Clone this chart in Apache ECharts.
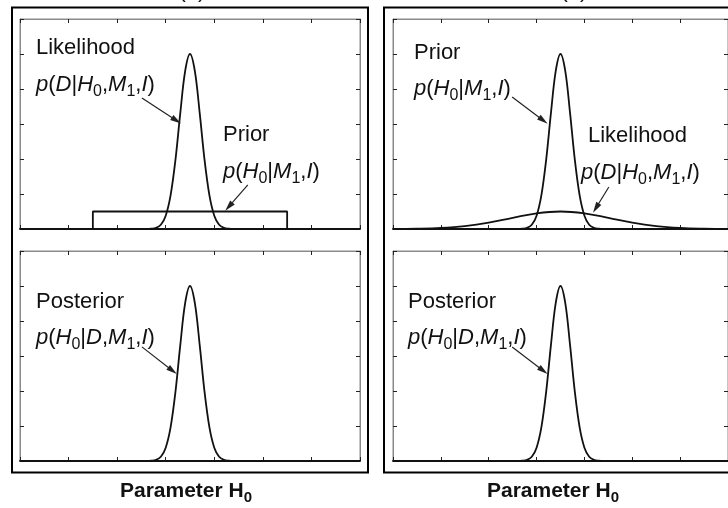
<!DOCTYPE html>
<html>
<head>
<meta charset="utf-8">
<script src="https://cdn.jsdelivr.net/npm/echarts@6/dist/echarts.min.js"></script>
<style>
  html, body { margin: 0; padding: 0; background: #fff; }
  #chart { width: 728px; height: 508px; }
</style>
</head>
<body>
<div id="chart"></div>
<script>
// Parameter H0 runs over 0..7, densities over 0..6 (arbitrary units)
const xTicks = [0, 1, 2, 3, 4, 5, 6, 7];
const yTicks = [0, 1, 2, 3, 4, 5, 6];

// (a) likelihood: narrow peak at H0 = 3.5
const likeAX = [0, 2.6, 2.7, 2.8, 2.9, 3.0, 3.1, 3.2, 3.3, 3.4, 3.5, 3.6, 3.7, 3.8, 3.9, 4.0, 4.1, 4.2, 4.3, 4.4, 7];
const likeAY = [0, 0.001, 0.007, 0.03, 0.12, 0.38, 0.96, 1.97, 3.31, 4.51, 5, 4.51, 3.31, 1.97, 0.96, 0.38, 0.12, 0.03, 0.007, 0.001, 0];

// (a) prior: flat box from 1.5 to 5.5
const priorAX = [1.5, 1.5, 5.5, 5.5];
const priorAY = [0, 0.5, 0.5, 0];

// (b) prior: narrow peak at H0 = 3.5
const priorBX = [0, 2.6, 2.7, 2.8, 2.9, 3.0, 3.1, 3.2, 3.3, 3.4, 3.5, 3.6, 3.7, 3.8, 3.9, 4.0, 4.1, 4.2, 4.3, 4.4, 7];
const priorBY = [0, 0.001, 0.007, 0.03, 0.12, 0.38, 0.96, 1.97, 3.31, 4.51, 5, 4.51, 3.31, 1.97, 0.96, 0.38, 0.12, 0.03, 0.007, 0.001, 0];

// (b) likelihood: broad, low hump
const likeBX = [0, 0.5, 1, 1.5, 2, 2.5, 3, 3.5, 4, 4.5, 5, 5.5, 6, 6.5, 7];
const likeBY = [0.002, 0.008, 0.029, 0.082, 0.18, 0.318, 0.447, 0.5, 0.447, 0.318, 0.18, 0.082, 0.029, 0.008, 0.002];

// Posteriors
const postAX = [0, 2.6, 2.7, 2.8, 2.9, 3.0, 3.1, 3.2, 3.3, 3.4, 3.5, 3.6, 3.7, 3.8, 3.9, 4.0, 4.1, 4.2, 4.3, 4.4, 7];
const postAY = [0, 0.001, 0.007, 0.03, 0.12, 0.38, 0.96, 1.97, 3.31, 4.51, 5, 4.51, 3.31, 1.97, 0.96, 0.38, 0.12, 0.03, 0.007, 0.001, 0];
const postBX = [0, 2.6, 2.7, 2.8, 2.9, 3.0, 3.1, 3.2, 3.3, 3.4, 3.5, 3.6, 3.7, 3.8, 3.9, 4.0, 4.1, 4.2, 4.3, 4.4, 7];
const postBY = [0, 0.001, 0.007, 0.03, 0.12, 0.38, 0.96, 1.97, 3.31, 4.51, 5, 4.51, 3.31, 1.97, 0.96, 0.38, 0.12, 0.03, 0.007, 0.001, 0];

// Arrow annotations in data units: [from, to]
const arrowLikeA  = [[2.51, 3.74], [3.22, 3.10]];
const arrowPriorA = [[4.69, 1.26], [4.30, 0.64]];
const arrowPriorB = [[2.49, 3.77], [3.14, 3.10]];
const arrowLikeB  = [[4.51, 1.20], [4.24, 0.60]];
const arrowPostA  = [[2.51, 3.26], [3.14, 2.58]];
const arrowPostB  = [[2.49, 3.26], [3.14, 2.58]];

const zip = (xs, ys) => xs.map((x, i) => [x, ys[i]]);

const FONT = '"Liberation Sans", Arial, Helvetica, sans-serif';
const INK = '#111';
const FRAME = '#8a8a8a';

const panels = [
  { left: 20,  top: 19,  width: 340, height: 210 },
  { left: 393, top: 19,  width: 340, height: 210 },
  { left: 20,  top: 251, width: 340, height: 210 },
  { left: 393, top: 251, width: 340, height: 210 }
];

const grid = panels.map(p => Object.assign({
  show: true, borderColor: FRAME, borderWidth: 1, backgroundColor: 'transparent'
}, p));

const tick = { show: true, inside: true, length: 4, lineStyle: { color: '#222', width: 1 } };
const xMin = xTicks[0], xMax = xTicks[xTicks.length - 1];
const yMin = yTicks[0], yMax = yTicks[yTicks.length - 1];

const xAxis = [], yAxis = [];
panels.forEach((p, i) => {
  xAxis.push({
    type: 'value', gridIndex: i, position: 'bottom', min: xMin, max: xMax, interval: 1,
    axisLine: { show: true, onZero: false, lineStyle: { color: INK, width: 1.8 } },
    axisTick: tick, axisLabel: { show: false }, splitLine: { show: false }
  });
  xAxis.push({
    type: 'value', gridIndex: i, position: 'top', min: xMin, max: xMax, interval: 1,
    axisLine: { show: true, onZero: false, lineStyle: { color: FRAME, width: 1 } },
    axisTick: tick, axisLabel: { show: false }, splitLine: { show: false }
  });
  yAxis.push({
    type: 'value', gridIndex: i, position: 'left', min: yMin, max: yMax, interval: 1,
    axisLine: { show: true, onZero: false, lineStyle: { color: FRAME, width: 1 } },
    axisTick: tick, axisLabel: { show: false }, splitLine: { show: false }
  });
  yAxis.push({
    type: 'value', gridIndex: i, position: 'right', min: yMin, max: yMax, interval: 1,
    axisLine: { show: true, onZero: false, lineStyle: { color: FRAME, width: 1 } },
    axisTick: tick, axisLabel: { show: false }, splitLine: { show: false }
  });
});

function arrowMark(arrows) {
  return {
    silent: true,
    symbol: ['none', 'triangle'],
    symbolSize: [6, 11],
    label: { show: false },
    emphasis: { disabled: true },
    lineStyle: { color: '#222', width: 1.2, type: 'solid' },
    data: arrows.map(a => [{ coord: a[0] }, { coord: a[1] }])
  };
}

function curve(panel, xs, ys, smooth, arrows) {
  return {
    type: 'line', xAxisIndex: panel * 2, yAxisIndex: panel * 2,
    data: zip(xs, ys), showSymbol: false, smooth: smooth,
    lineStyle: { color: INK, width: 1.8 },
    z: 3,
    markLine: arrows ? arrowMark(arrows) : undefined
  };
}

const series = [
  curve(0, likeAX, likeAY, 0.35, [arrowLikeA, arrowPriorA]),
  curve(0, priorAX, priorAY, false),
  curve(1, priorBX, priorBY, 0.35, [arrowPriorB, arrowLikeB]),
  curve(1, likeBX, likeBY, 0.4),
  curve(2, postAX, postAY, 0.35, [arrowPostA]),
  curve(3, postBX, postBY, 0.35, [arrowPostB])
];

// Rich-text styles for the probability expressions
const rich = {
  n: { fontFamily: FONT, fontSize: 22, lineHeight: 30, fill: INK, color: INK },
  i: { fontFamily: FONT, fontSize: 22, fontStyle: 'italic', lineHeight: 30, fill: INK, color: INK },
  s: { fontFamily: FONT, fontSize: 16, lineHeight: 15, verticalAlign: 'bottom', fill: INK, color: INK }
};
const EXPR = {
  likelihood: '{i|p}{n|(}{i|D}{n||}{i|H}{s|0}{n|,}{i|M}{s|1}{n|,}{i|I}{n|)}',
  prior: '{i|p}{n|(}{i|H}{s|0}{n||}{i|M}{s|1}{n|,}{i|I}{n|)}',
  posterior: '{i|p}{n|(}{i|H}{s|0}{n||}{i|D}{n|,}{i|M}{s|1}{n|,}{i|I}{n|)}'
};

function label(x, y, text) {
  return {
    type: 'text', x: x, y: y, z: 10, silent: true,
    style: { text: text, rich: rich, fill: INK, font: '22px ' + FONT, verticalAlign: 'top', align: 'left' }
  };
}
function word(x, y, text) {
  return label(x, y, '{n|' + text + '}');
}

const axisTitleRich = {
  b: { fontFamily: FONT, fontSize: 21, fontWeight: 'bold', lineHeight: 28, fill: INK, color: INK },
  bs: { fontFamily: FONT, fontSize: 15, fontWeight: 'bold', lineHeight: 14, verticalAlign: 'bottom', fill: INK, color: INK }
};

const graphic = [
  // outer frames around each column
  { type: 'rect', silent: true, z: 1, shape: { x: 12, y: 7.5, width: 356, height: 465 },
    style: { fill: 'none', stroke: '#000', lineWidth: 2 } },
  { type: 'rect', silent: true, z: 1, shape: { x: 384, y: 7.5, width: 360, height: 465 },
    style: { fill: 'none', stroke: '#000', lineWidth: 2 } },
  // column captions, mostly above the page edge
  { type: 'text', x: 192, y: -20, silent: true,
    style: { text: '(a)', font: '22px ' + FONT, fill: INK, align: 'center', verticalAlign: 'top' } },
  { type: 'text', x: 574, y: -20, silent: true,
    style: { text: '(b)', font: '22px ' + FONT, fill: INK, align: 'center', verticalAlign: 'top' } },

  // panel (a) top
  word(36, 33, 'Likelihood'),
  label(36, 70, EXPR.likelihood),
  word(223, 120, 'Prior'),
  label(223, 157, EXPR.prior),
  // panel (b) top
  word(414, 38, 'Prior'),
  label(414, 74, EXPR.prior),
  word(588, 121, 'Likelihood'),
  label(581, 158, EXPR.likelihood),
  // bottom panels
  word(36, 287, 'Posterior'),
  label(36, 323, EXPR.posterior),
  word(408, 287, 'Posterior'),
  label(408, 323, EXPR.posterior),

  // axis titles
  { type: 'text', x: 186, y: 477, silent: true,
    style: { text: '{b|Parameter H}{bs|0}', align: 'center', verticalAlign: 'top', rich: axisTitleRich } },
  { type: 'text', x: 553, y: 477, silent: true,
    style: { text: '{b|Parameter H}{bs|0}', align: 'center', verticalAlign: 'top', rich: axisTitleRich } }
];

const chart = echarts.init(document.getElementById('chart'), null, { renderer: 'canvas' });
chart.setOption({
  animation: false,
  backgroundColor: '#fff',
  grid: grid,
  xAxis: xAxis,
  yAxis: yAxis,
  series: series,
  graphic: graphic
});
</script>
</body>
</html>
